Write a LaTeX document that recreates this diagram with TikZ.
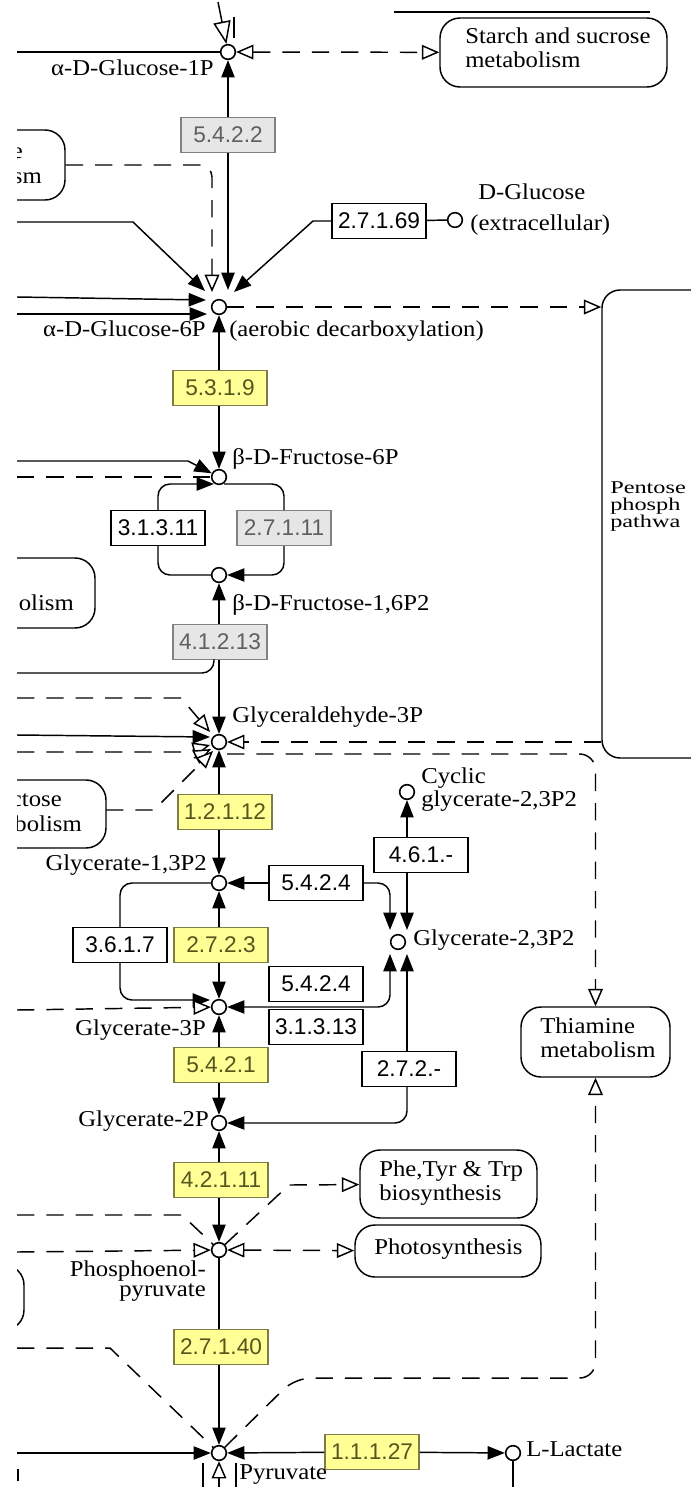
\documentclass[tikz,border=0pt]{standalone}
\usepackage{fontspec}
\setmainfont{Liberation Serif}[FakeStretch=1.09]
\newfontfamily\pentfont{Liberation Serif}[FakeStretch=1.35]
\newfontfamily\enzfam{Liberation Sans}
\usetikzlibrary{arrows.meta}
\definecolor{ylwfill}{RGB}{255,255,150}
\definecolor{ylwdraw}{RGB}{125,125,70}
\definecolor{ylwtext}{RGB}{85,85,30}
\definecolor{gryfill}{RGB}{230,230,230}
\definecolor{grydraw}{RGB}{130,130,130}
\definecolor{grytext}{RGB}{95,95,95}
\tikzset{
  ftip/.tip={Triangle[length=13pt,width=10pt]},
  otip/.tip={Triangle[length=13pt,width=11pt,fill=white]},
  bigotip/.tip={Triangle[length=17pt,width=13pt,fill=white]},
  ln/.style={line width=1.1pt},
  dsh/.style={line width=1.1pt, dash pattern=on 13pt off 9pt},
  cpd/.style={circle, draw, line width=1.2pt, fill=white, minimum size=11pt, inner sep=0pt},
  enz/.style={rectangle, draw, line width=1pt, minimum width=70.5pt, minimum height=26pt, inner sep=0pt, font=\enzfam\fontsize{17pt}{19pt}\selectfont},
  enzw/.style={enz, fill=white},
  enzy/.style={enz, fill=ylwfill, draw=ylwdraw, text=ylwtext},
  enzg/.style={enz, fill=gryfill, draw=grydraw, text=grytext},
  lbl/.style={inner sep=0pt, font=\fontsize{17pt}{19pt}\selectfont, text height=0.68em, text depth=0.2em},
  plbl/.style={inner sep=0pt, font=\pentfont\fontsize{13.5pt}{14pt}\selectfont, text height=0.66em, text depth=0.2em},
  mapbox/.style={draw, line width=1.1pt, rounded corners=15pt, fill=white, inner sep=0pt},
}
\begin{document}
\begin{tikzpicture}[x=0.75pt,y=-0.75pt]
\fill[white] (0,0) rectangle (691,1487);
\useasboundingbox (0,0) rectangle (691,1487);
\clip (17,0) rectangle (691,1487);

% ---------- map boxes ----------
\node[mapbox, minimum width=170.25pt, minimum height=51.75pt] (starch) at (553.5,52.5) {};
\node[mapbox, minimum width=93.75pt, minimum height=52.5pt] (leftA) at (2.5,165) {};
\node[mapbox, rounded corners=13.5pt, minimum width=118.5pt, minimum height=351pt] (pentose) at (681,524) {};
\node[mapbox, minimum width=116.25pt, minimum height=52.5pt] (olismbox) at (17.5,593) {};
\node[mapbox, minimum width=124.5pt, minimum height=51pt] (ctosebox) at (23,814) {};
\node[mapbox, minimum width=93pt, minimum height=48.75pt] (pepleft) at (-38,1297.5) {};
\node[mapbox, minimum width=132.75pt, minimum height=51pt] (phe) at (448.5,1184) {};
\node[mapbox, minimum width=139.5pt, minimum height=39pt] (photo) at (448,1251) {};
\node[mapbox, minimum width=111.75pt, minimum height=52.5pt] (thiamine) at (595.5,1042) {};

\node[lbl, anchor=west] (tstarch1) at (465,40) {Starch and sucrose};
\node[lbl, anchor=west] (tstarch2) at (465,64) {metabolism};
\node[lbl, anchor=east] (tleftA1) at (23,155) {e};
\node[lbl, anchor=east] (tleftA2) at (42,180) {sm};
\node[plbl, anchor=west] (tpent1) at (610,490) {Pentose};
\node[plbl, anchor=west] (tpent2) at (610,507) {phosph};
\node[plbl, anchor=west] (tpent3) at (610,524) {pathwa};
\node[lbl, anchor=east] (tolism) at (74,607) {olism};
\node[lbl, anchor=east] (tctose1) at (62,803) {ctose};
\node[lbl, anchor=east] (tctose2) at (82,828) {bolism};
\node[lbl, anchor=west] (tphe1) at (379,1173) {Phe,Tyr \& Trp};
\node[lbl, anchor=west] (tphe2) at (379,1197) {biosynthesis};
\node[lbl, anchor=west] (tphoto) at (374,1251) {Photosynthesis};
\node[lbl, anchor=west] (tthia1) at (540,1030) {Thiamine};
\node[lbl, anchor=west] (tthia2) at (540,1054) {metabolism};

% ---------- enzymes ----------
\node[enzg] (e5422) at (228,135) {5.4.2.2};
\node[enzw] (e27169) at (379,221) {2.7.1.69};
\node[enzy] (e5319) at (220,388) {5.3.1.9};
\node[enzw] (e31311) at (158,528) {3.1.3.11};
\node[enzg] (e27111) at (284,528) {2.7.1.11};
\node[enzg] (e41213) at (220,642) {4.1.2.13};
\node[enzy] (e12112) at (225,812) {1.2.1.12};
\node[enzw] (e4561) at (421,855) {4.6.1.-};
\node[enzw] (e5424a) at (316,883) {5.4.2.4};
\node[enzw] (e3617) at (120,945) {3.6.1.7};
\node[enzy] (e2723) at (221,945) {2.7.2.3};
\node[enzw] (e5424b) at (316,984) {5.4.2.4};
\node[enzw] (e31313) at (316,1027) {3.1.3.13};
\node[enzw] (e2722) at (409,1069) {2.7.2.-};
\node[enzy] (e5421) at (221,1065) {5.4.2.1};
\node[enzy] (e42111) at (221,1180) {4.2.1.11};
\node[enzy] (e27140) at (221,1347) {2.7.1.40};
\node[enzy] (e11127) at (372,1452) {1.1.1.27};

% ---------- compounds ----------
\node[cpd] (g1p) at (228,52) {};
\node[cpd] (g6p) at (219,307) {};
\node[cpd] (f6p) at (219,477) {};
\node[cpd] (f16) at (219,575) {};
\node[cpd] (ga3p) at (219,742) {};
\node[cpd] (g13) at (219,883) {};
\node[cpd] (g3p) at (219,1007) {};
\node[cpd] (g2p) at (219,1123) {};
\node[cpd] (pep) at (219,1250) {};
\node[cpd] (pyr) at (219,1453) {};
\node[cpd] (cgly) at (407,792) {};
\node[cpd] (g23) at (398,942) {};
\node[cpd] (dglc) at (455,220) {};
\node[cpd] (lac) at (513,1453) {};

\node[lbl, anchor=east] at (214,72) {α-D-Glucose-1P};
\node[lbl, anchor=west] at (478,196) {D-Glucose};
\node[lbl, anchor=west] at (470,227) {(extracellular)};
\node[lbl, anchor=east] at (206,333) {α-D-Glucose-6P};
\node[lbl, anchor=west] at (229,333) {(aerobic decarboxylation)};
\node[lbl, anchor=west] at (232,461) {β-D-Fructose-6P};
\node[lbl, anchor=west] at (232,607) {β-D-Fructose-1,6P2};
\node[lbl, anchor=west] at (232,719) {Glyceraldehyde-3P};
\node[lbl, anchor=west] at (421,780) {Cyclic};
\node[lbl, anchor=west] at (421,803) {glycerate-2,3P2};
\node[lbl, anchor=east] at (207,867) {Glycerate-1,3P2};
\node[lbl, anchor=west] at (413,942) {Glycerate-2,3P2};
\node[lbl, anchor=east] at (206,1032) {Glycerate-3P};
\node[lbl, anchor=east] at (209,1123) {Glycerate-2P};
\node[lbl, anchor=east] at (206,1273) {Phosphoenol-};
\node[lbl, anchor=east] at (206,1293) {pyruvate};
\node[lbl, anchor=west] at (239,1476) {Pyruvate};
\node[lbl, anchor=west] at (526,1453) {L-Lactate};

% ---------- free coordinates ----------
\coordinate (g6pN) at (228,290);
\coordinate (g6pNW) at (212,292);
\coordinate (g6pNW2) at (205,291);
\coordinate (g6pW1) at (206,300);
\coordinate (g6pW2) at (207,314);
\coordinate (g6pNE) at (234,292);
\coordinate (g23N1) at (390,930);
\coordinate (g23N2) at (407,930);
\coordinate (g23S1) at (390,954);
\coordinate (g23S2) at (407,954);

% ---------- top ----------
\draw[ln] (394,12) -- (650,12);
\draw[ln] (17,52) -- (g1p);
\draw[ln,-bigotip] (218,2) -- (g1p);
\draw[ln] (234,17) -- (234,38);
\draw[dsh,otip-otip] (g1p) -- (starch);
\draw[ln,-ftip] (e5422) -- (g1p);
\draw[ln,-ftip] (e5422) -- (g6pN);

% ---------- glucose-6P ----------
\draw[dsh,-otip,rounded corners=9pt] (leftA) -- (212,165) -- (g6pNW);
\draw[ln,-ftip] (17,222) -- (133,222) -- (g6pNW2);
\draw[ln,-ftip] (17,297) -- (g6pW1);
\draw[ln,-ftip] (17,314) -- (g6pW2);
\draw[ln,-ftip] (e27169) -- (313,221) -- (g6pNE);
\draw[ln] (e27169) -- (dglc);
\draw[ln,-ftip] (e5319.north -| g6p) -- (g6p);
\draw[ln,-ftip] (e5319.south -| f6p) -- (f6p);
\draw[dsh,-otip] (g6p) -- (pentose.west |- g6p);

% ---------- fructose ----------
\draw[ln,-ftip] (17,461) -- (188,461) -- (f6p);
\draw[dsh] (17,477) -- (f6p);
\draw[ln,-ftip,rounded corners=9pt] (e31311) -- (158,484) -- (214,484);
\draw[ln,rounded corners=9pt] (e27111) -- (284,484) -- (224,484);
\draw[ln,rounded corners=9pt] (e31311) -- (158,575) -- (f16);
\draw[ln,-ftip,rounded corners=9pt] (e27111) -- (284,575) -- (f16);
\draw[ln,-ftip] (e41213.north -| f16) -- (f16);
\draw[ln,-ftip] (e41213.south -| ga3p) -- (ga3p);
\draw[ln,rounded corners=9pt] (17,673) -- (214,673) -- (214,659);

% ---------- glyceraldehyde-3P ----------
\draw[dsh,-otip] (17,698) -- (181,698) -- (210,732);
\draw[ln,-ftip] (17,735) -- (210,737);
\draw[dsh,-otip] (17,752) -- (185,752) -- (210,745);
\draw[ln,-otip] (194,758) -- (211,749);
\draw[dsh,-otip] (106,810) -- (154,810) -- (213,751);
\draw[dsh,-otip] (pentose.west |- ga3p) -- (ga3p);
\draw[dsh,-otip,rounded corners=12pt] (227,754) -- (595.5,754) -- (thiamine.north);
\draw[ln,-ftip] (e12112.north -| ga3p) -- (ga3p);
\draw[ln,-ftip] (e12112.south -| g13) -- (g13);

% ---------- glycerate-1,3P2 ----------
\draw[ln,-ftip] (e5424a) -- (g13);
\draw[ln,-ftip,rounded corners=9pt] (e5424a) -- (390,883) -- (g23N1);
\draw[ln,-ftip] (e4561.north -| cgly) -- (cgly);
\draw[ln,-ftip] (e4561.south -| cgly) -- (g23N2);
\draw[ln,rounded corners=9pt] (g13) -- (120,883) -- (e3617);
\draw[ln,-ftip,rounded corners=9pt] (e3617) -- (120,1000) -- (210,1000);
\draw[ln,-ftip] (e2723.north -| g13) -- (g13);
\draw[ln,-ftip] (e2723.south -| g3p) -- (g3p);

% ---------- glycerate-3P / 2P ----------
\draw[dsh,-otip] (17,1010) -- (g3p);
\draw[ln,ftip-ftip,rounded corners=9pt] (g3p) -- (390,1007) -- (g23S1);
\draw[ln,-ftip] (e2722.north -| cgly) -- (g23S2);
\draw[ln,-ftip,rounded corners=9pt] (e2722.south -| cgly) -- (407,1123) -- (g2p);
\draw[ln,-ftip] (e5421.north -| g3p) -- (g3p);
\draw[ln,-ftip] (e5421.south -| g2p) -- (g2p);
\draw[ln,-ftip] (e42111.north -| g2p) -- (g2p);
\draw[ln,-ftip] (e42111.south -| pep) -- (pep);

% ---------- PEP ----------
\draw[dsh] (17,1215) -- (182,1215) -- (pep);
\draw[dsh,-otip] (17,1252) -- (pep);
\draw[dsh,otip-otip] (pep) -- (photo);
\draw[dsh,-otip] (pep) -- (289,1185) -- (phe);
\draw[ln] (pep) -- (e27140.north -| pep);
\draw[ln,-ftip] (e27140.south -| pyr) -- (pyr);

% ---------- pyruvate ----------
\draw[dsh] (17,1348) -- (110,1348) -- (pyr);
\draw[dsh,-otip,rounded corners=12pt] (pyr) -- (295,1378) -- (595.5,1378) -- (thiamine.south);
\draw[ln,-ftip] (17,1453) -- (pyr);
\draw[ln,-ftip] (e11127) -- (pyr);
\draw[ln,-ftip] (e11127) -- (lac);
\draw[ln] (lac) -- (513,1495);
\draw[ln,-otip] (219,1495) -- (pyr);
\draw[ln] (203,1463) -- (203,1492);
\draw[ln] (236,1463) -- (236,1492);
\draw[ln] (18,1469) -- (18,1481);
\end{tikzpicture}
\end{document}
